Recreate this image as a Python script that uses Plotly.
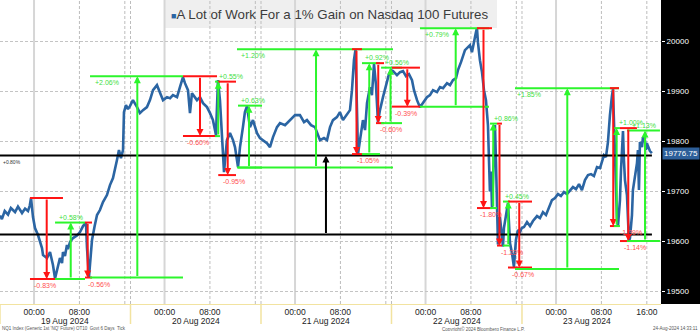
import plotly.graph_objects as go

# ---------------- DATA ----------------
price_time = [
    "2024-08-18 18:00", "2024-08-18 18:20", "2024-08-18 18:50", "2024-08-18 19:25", "2024-08-18 19:55",
    "2024-08-18 20:39", "2024-08-18 21:10", "2024-08-18 21:53", "2024-08-18 22:25", "2024-08-18 22:56",
    "2024-08-18 23:15", "2024-08-18 23:28", "2024-08-18 23:49", "2024-08-19 00:10", "2024-08-19 00:42",
    "2024-08-19 01:24", "2024-08-19 01:35", "2024-08-19 02:17", "2024-08-19 02:49", "2024-08-19 03:20",
    "2024-08-19 03:42", "2024-08-19 04:13", "2024-08-19 04:34", "2024-08-19 04:56", "2024-08-19 05:06",
    "2024-08-19 05:27", "2024-08-19 05:48", "2024-08-19 05:59", "2024-08-19 06:20", "2024-08-19 06:52",
    "2024-08-19 07:34", "2024-08-19 08:06", "2024-08-19 08:38", "2024-08-19 09:09", "2024-08-19 09:20",
    "2024-08-19 09:41", "2024-08-19 09:52", "2024-08-19 10:13", "2024-08-19 10:40", "2024-08-19 11:06",
    "2024-08-19 11:37", "2024-08-19 12:09", "2024-08-19 12:51", "2024-08-19 13:23", "2024-08-19 13:55",
    "2024-08-19 14:16", "2024-08-19 14:37", "2024-08-19 14:58", "2024-08-19 15:19", "2024-08-19 15:41",
    "2024-08-19 15:51", "2024-08-19 16:12", "2024-08-19 16:33", "2024-08-19 16:54",
    # session 2
    "2024-08-19 18:26", "2024-08-19 19:09", "2024-08-19 19:40", "2024-08-19 20:12", "2024-08-19 20:54",
    "2024-08-19 21:26", "2024-08-19 21:58", "2024-08-19 22:40", "2024-08-19 23:12", "2024-08-19 23:44",
    "2024-08-20 00:26", "2024-08-20 00:58", "2024-08-20 01:29", "2024-08-20 02:12", "2024-08-20 02:43",
    "2024-08-20 03:15", "2024-08-20 03:36", "2024-08-20 04:08", "2024-08-20 04:29", "2024-08-20 04:50",
    "2024-08-20 05:43", "2024-08-20 06:15", "2024-08-20 06:47", "2024-08-20 07:29", "2024-08-20 08:01",
    "2024-08-20 08:32", "2024-08-20 09:04", "2024-08-20 09:25", "2024-08-20 09:46", "2024-08-20 10:08",
    "2024-08-20 10:29", "2024-08-20 11:00", "2024-08-20 11:32", "2024-08-20 12:04", "2024-08-20 12:25",
    "2024-08-20 12:57", "2024-08-20 13:18", "2024-08-20 13:49", "2024-08-20 14:10", "2024-08-20 14:32",
    "2024-08-20 15:03", "2024-08-20 15:35", "2024-08-20 16:18", "2024-08-20 16:49",
    # session 3
    "2024-08-20 18:21", "2024-08-20 19:03", "2024-08-20 19:35", "2024-08-20 20:07", "2024-08-20 20:49",
    "2024-08-20 21:21", "2024-08-20 22:14", "2024-08-20 23:07", "2024-08-21 00:00", "2024-08-21 00:52",
    "2024-08-21 01:35", "2024-08-21 02:06", "2024-08-21 02:49", "2024-08-21 03:31", "2024-08-21 04:03",
    "2024-08-21 04:24", "2024-08-21 05:06", "2024-08-21 05:38", "2024-08-21 06:10", "2024-08-21 06:41",
    "2024-08-21 07:23", "2024-08-21 07:55", "2024-08-21 08:27", "2024-08-21 09:09", "2024-08-21 09:41",
    "2024-08-21 10:02", "2024-08-21 10:23", "2024-08-21 10:40", "2024-08-21 10:50", "2024-08-21 10:58",
    "2024-08-21 11:06", "2024-08-21 11:27", "2024-08-21 11:58", "2024-08-21 12:20", "2024-08-21 12:41",
    "2024-08-21 13:12", "2024-08-21 13:33", "2024-08-21 13:55", "2024-08-21 14:16", "2024-08-21 14:37",
    "2024-08-21 14:58", "2024-08-21 15:30", "2024-08-21 16:02", "2024-08-21 16:33", "2024-08-21 16:54",
    # session 4
    "2024-08-21 18:16", "2024-08-21 18:58", "2024-08-21 19:30", "2024-08-21 20:02", "2024-08-21 20:33",
    "2024-08-21 21:05", "2024-08-21 21:37", "2024-08-21 21:58", "2024-08-21 22:30", "2024-08-21 23:01",
    "2024-08-21 23:33", "2024-08-22 00:15", "2024-08-22 00:47", "2024-08-22 01:19", "2024-08-22 02:01",
    "2024-08-22 02:33", "2024-08-22 03:05", "2024-08-22 03:47", "2024-08-22 04:19", "2024-08-22 04:50",
    "2024-08-22 05:22", "2024-08-22 05:43", "2024-08-22 06:15", "2024-08-22 06:36", "2024-08-22 06:57",
    "2024-08-22 07:29", "2024-08-22 07:50", "2024-08-22 08:11", "2024-08-22 08:32", "2024-08-22 08:53",
    "2024-08-22 09:04", "2024-08-22 09:14", "2024-08-22 09:35", "2024-08-22 09:57", "2024-08-22 10:18",
    "2024-08-22 10:39", "2024-08-22 11:00", "2024-08-22 11:10", "2024-08-22 11:21", "2024-08-22 11:32",
    "2024-08-22 11:43", "2024-08-22 11:53", "2024-08-22 12:04", "2024-08-22 12:14", "2024-08-22 12:25",
    "2024-08-22 12:35", "2024-08-22 12:46", "2024-08-22 13:07", "2024-08-22 13:28", "2024-08-22 13:39",
    "2024-08-22 13:49", "2024-08-22 14:21", "2024-08-22 14:32", "2024-08-22 14:53", "2024-08-22 15:14",
    "2024-08-22 15:35", "2024-08-22 15:56", "2024-08-22 16:17", "2024-08-22 16:39", "2024-08-22 16:58",
    # session 5
    "2024-08-22 18:21", "2024-08-22 18:53", "2024-08-22 19:25", "2024-08-22 19:56", "2024-08-22 20:39",
    "2024-08-22 21:10", "2024-08-22 21:42", "2024-08-22 22:14", "2024-08-22 22:45", "2024-08-22 23:17",
    "2024-08-22 23:49", "2024-08-23 00:21", "2024-08-23 00:52", "2024-08-23 01:24", "2024-08-23 01:56",
    "2024-08-23 02:28", "2024-08-23 02:59", "2024-08-23 03:31", "2024-08-23 04:03", "2024-08-23 04:34",
    "2024-08-23 05:06", "2024-08-23 05:38", "2024-08-23 06:10", "2024-08-23 06:41", "2024-08-23 07:13",
    "2024-08-23 07:45", "2024-08-23 08:06", "2024-08-23 08:27", "2024-08-23 08:48", "2024-08-23 09:09",
    "2024-08-23 09:30", "2024-08-23 09:41", "2024-08-23 09:51", "2024-08-23 10:02", "2024-08-23 10:13",
    "2024-08-23 10:23", "2024-08-23 10:34", "2024-08-23 10:44", "2024-08-23 10:55", "2024-08-23 11:06",
    "2024-08-23 11:16", "2024-08-23 11:27", "2024-08-23 11:37", "2024-08-23 11:48", "2024-08-23 11:58",
    "2024-08-23 12:09", "2024-08-23 12:30", "2024-08-23 12:41", "2024-08-23 12:51", "2024-08-23 13:02",
    "2024-08-23 13:23", "2024-08-23 13:33", "2024-08-23 13:55", "2024-08-23 14:16", "2024-08-23 14:26",
    "2024-08-23 14:37", "2024-08-23 14:47", "2024-08-23 15:09", "2024-08-23 15:19", "2024-08-23 15:40",
    "2024-08-23 15:51", "2024-08-23 16:01", "2024-08-23 16:12", "2024-08-23 16:33", "2024-08-23 16:54",
]
price_value = [
    19652, 19645, 19661, 19654, 19667, 19659, 19670, 19657, 19666, 19661,
    19672, 19687, 19649, 19627, 19613, 19587, 19573, 19567, 19579, 19553,
    19526, 19553, 19567, 19557, 19579, 19571, 19593, 19585, 19599, 19607,
    19612, 19619, 19631, 19638, 19587, 19529, 19559, 19603, 19630, 19653,
    19663, 19679, 19693, 19713, 19727, 19743, 19763, 19783, 19767, 19783,
    19859, 19873, 19865, 19871,
    19883, 19869, 19857, 19863, 19869, 19883, 19903, 19913, 19897, 19883,
    19889, 19887, 19893, 19889, 19909, 19929, 19917, 19903, 19857, 19897,
    19883, 19889, 19877, 19869, 19857, 19843, 19813, 19923, 19883, 19817,
    19739, 19803, 19817, 19803, 19789, 19749, 19789, 19829, 19859, 19871,
    19829, 19843, 19817, 19807,
    19803, 19797, 19789, 19809, 19829, 19837, 19833, 19843, 19853, 19853,
    19839, 19843, 19833, 19829, 19813, 19803, 19807, 19803, 19829, 19843,
    19849, 19859, 19843, 19853, 19863, 19903, 19963, 19985, 19903, 19833,
    19775, 19803, 19843, 19823, 19877, 19909, 19893, 19955, 19913, 19839,
    19863, 19889, 19913, 19935, 19943,
    19941, 19933, 19939, 19941, 19931, 19935, 19923, 19903, 19883, 19869,
    19877, 19889, 19893, 19903, 19899, 19909, 19907, 19917, 19913, 19923,
    19927, 19943, 19959, 19973, 19983, 19989, 19993, 19979, 20003, 20019,
    20027, 19999, 19963, 19939, 19903, 19883, 19833, 19760, 19700, 19740,
    19668, 19720, 19790, 19833, 19760, 19660, 19594, 19649, 19607, 19590,
    19627, 19660, 19677, 19597, 19577, 19549, 19603, 19623, 19619, 19627,
    19629, 19639, 19631, 19641, 19651, 19647, 19659, 19653, 19667, 19683,
    19687, 19695, 19691, 19699, 19695, 19703, 19709, 19705, 19715, 19703,
    19723, 19733, 19735, 19731, 19749, 19747, 19759, 19773, 19769, 19799,
    19853, 19883, 19891, 19905, 19827, 19753, 19693, 19647, 19631, 19653,
    19683, 19743, 19793, 19821, 19763, 19723, 19693, 19643, 19601, 19607,
    19653, 19703, 19727, 19757, 19783, 19703, 19799, 19789, 19809, 19803,
    19783, 19797, 19791, 19781, 19776.75,
]

# measured moves: start level, end level, span of level lines, arrow time, label
meas_label = ["-0.83%", "+0.58%", "-0.56%", "+2.06%", "-0.60%", "+0.55%", "-0.95%", "+0.63%",
              "+1.20%", "-1.05%", "+0.92%", "-0.60%", "+0.56%", "-0.39%", "+0.79%", "-1.80%",
              "+0.86%", "-1.23%", "+0.45%", "-0.67%", "+1.85%", "-1.39%", "+1.00%", "-1.14%", "+1.13%"]
meas_from = [19687, 19525, 19638, 19528, 19931, 19811, 19920, 19748,
             19748, 19985, 19775, 19957, 19837, 19948, 19870, 20027,
             19667, 19836, 19592, 19680, 19545, 19907, 19631, 19827, 19601]
meas_to = [19525, 19638, 19528, 19931, 19811, 19920, 19733, 19872,
           19985, 19775, 19957, 19837, 19948, 19870, 20027, 19667,
           19836, 19592, 19680, 19548, 19907, 19631, 19827, 19601, 19822]
meas_start = ["2024-08-18 23:17", "2024-08-19 03:42", "2024-08-19 08:59", "2024-08-19 09:52",
              "2024-08-20 03:15", "2024-08-20 08:54", "2024-08-20 09:28", "2024-08-20 12:57",
              "2024-08-20 12:46", "2024-08-21 10:02", "2024-08-21 11:48", "2024-08-21 14:16",
              "2024-08-21 15:10", "2024-08-21 18:05", "2024-08-21 23:01", "2024-08-22 09:04",
              "2024-08-22 11:22", "2024-08-22 12:36", "2024-08-22 13:39", "2024-08-22 14:32",
              "2024-08-22 15:46", "2024-08-23 09:30", "2024-08-23 10:13", "2024-08-23 11:16",
              "2024-08-23 12:30"]
meas_end = ["2024-08-19 05:06", "2024-08-19 08:59", "2024-08-19 10:13", "2024-08-20 03:15",
            "2024-08-20 09:15", "2024-08-20 09:46", "2024-08-20 12:36", "2024-08-20 18:11",
            "2024-08-21 18:16", "2024-08-21 11:48", "2024-08-21 14:58", "2024-08-21 15:41",
            "2024-08-21 19:51", "2024-08-21 23:01", "2024-08-22 11:11", "2024-08-22 11:43",
            "2024-08-22 12:36", "2024-08-22 13:28", "2024-08-22 14:53", "2024-08-22 19:46",
            "2024-08-23 11:06", "2024-08-23 11:06", "2024-08-23 11:16", "2024-08-23 14:16",
            "2024-08-23 19:19"]
meas_arrow = ["2024-08-19 02:14", "2024-08-19 06:28", "2024-08-19 09:27", "2024-08-19 19:12",
              "2024-08-20 06:15", "2024-08-20 09:28", "2024-08-20 11:08", "2024-08-20 14:53",
              "2024-08-21 03:42", "2024-08-21 10:50", "2024-08-21 13:05", "2024-08-21 14:40",
              "2024-08-21 16:50", "2024-08-21 20:47", "2024-08-22 05:19", "2024-08-22 10:13",
              "2024-08-22 11:56", "2024-08-22 13:02", "2024-08-22 14:35", "2024-08-22 16:31",
              "2024-08-23 01:59", "2024-08-23 10:05", "2024-08-23 10:41", "2024-08-23 12:44",
              "2024-08-23 15:41"]

level_values = [19614, 19772]
level_label = "+0.80%"
level_start = "2024-08-18 18:00"
level_end = "2024-08-23 16:54"
level_arrow = "2024-08-21 05:27"

session_days = ["2024-08-19", "2024-08-20", "2024-08-21", "2024-08-22", "2024-08-23"]
session_prev = ["2024-08-18", "2024-08-19", "2024-08-20", "2024-08-21", "2024-08-22"]
date_labels = ["19 Aug 2024", "20 Aug 2024", "21 Aug 2024", "22 Aug 2024", "23 Aug 2024"]
ytick_vals = [19500, 19600, 19700, 19800, 19900, 20000]
last_price = 19776.75
title_text = "A Lot of Work For a 1% Gain on Nasdaq 100 Futures"
footer_left = "NQ1 Index (Generic 1st 'NQ' Future) OT10  Govt 6 Days  Tick"
footer_mid = "Copyright\u00a9 2024 Bloomberg Finance L.P."
footer_right = "24-Aug-2024 14:33:11"

# ---------------- STYLE ----------------
W, H = 700, 331
ML, MR, MT, MB = 0, 39, 0, 27
PW, PH = W - ML - MR, H - MT - MB
BLUE = "#2b65a3"
GREEN_LINE, GREEN_TXT = "#2cf52c", "#3fe03f"
RED_LINE, RED_TXT = "#ff1414", "#ff5050"
label_side = ["below", "above", "below", "below", "below", "above", "below", "above",
              "below", "below", "above", "below", "above", "below", "below", "below",
              "above", "below", "above", "below", "below", "below", "above", "below", "above"]
label_dx = [2, 2, 1, 3, 2, 2, 3, 1, 2, 3, 1, 2, 2, 1, 3, 1, 2, 2, 0, 2, 0, 8, 3, 2, 3]
LBL_FONT = dict(family="Liberation Sans", size=7)

fig = go.Figure()
fig.add_trace(go.Scatter(x=price_time, y=price_value, mode="lines",
                         line=dict(color=BLUE, width=2.6), hoverinfo="skip", showlegend=False))

shapes = []
annotations = []

# right black panel and title box
shapes.append(dict(type="rect", xref="paper", yref="paper", x0=1, x1=1 + MR / PW, y0=0, y1=1,
                   fillcolor="black", line=dict(width=0), layer="below"))
shapes.append(dict(type="rect", xref="paper", yref="paper", x0=165 / PW, x1=497 / PW,
                   y0=1 - 28 / PH, y1=1, fillcolor="#efefef", line=dict(width=0), layer="below"))

# vertical grid
for d, p in zip(session_days, session_prev):
    shapes.append(dict(type="line", xref="x", yref="paper", x0=d + " 00:00", x1=d + " 00:00",
                       y0=0, y1=1, line=dict(color="#d6d6d6", width=2), layer="below"))
    for hh in ["08:00", "16:00"]:
        shapes.append(dict(type="line", xref="x", yref="paper", x0=d + " " + hh, x1=d + " " + hh,
                           y0=0, y1=1, line=dict(color="#bdbdbd", width=1, dash="3px,2px"), layer="below"))
    # yellow session separator under the axis
    shapes.append(dict(type="line", xref="x", yref="paper", x0=p + " 18:00", x1=p + " 18:00",
                       y0=0, y1=-20 / PH, line=dict(color="#f2e3a0", width=1.5)))
    if d != session_days[0]:
        shapes.append(dict(type="line", xref="x", yref="paper", x0=p + " 18:00", x1=p + " 18:00",
                           y0=0, y1=1, line=dict(color="#bdbdbd", width=1, dash="3px,2px"), layer="below"))

# black reference levels
for lv in level_values:
    shapes.append(dict(type="line", xref="x", yref="y", x0=level_start, x1=level_end, y0=lv, y1=lv,
                       line=dict(color="black", width=2)))
annotations.append(dict(x=level_arrow, y=level_values[1], ax=level_arrow, ay=level_values[0],
                        xref="x", yref="y", axref="x", ayref="y", text="", showarrow=True,
                        arrowhead=2, arrowsize=0.7, arrowwidth=2, arrowcolor="black"))
annotations.append(dict(x=level_start, y=level_values[1], xref="x", yref="y", text=level_label,
                        showarrow=False, xanchor="left", yanchor="top", xshift=1, yshift=-1,
                        font=dict(family="Liberation Sans", size=5, color="#333333")))

# measured moves
for i in range(len(meas_label)):
    up = meas_to[i] > meas_from[i]
    lc = GREEN_LINE if up else RED_LINE
    tc = GREEN_TXT if up else RED_TXT
    for lv in (meas_from[i], meas_to[i]):
        shapes.append(dict(type="line", xref="x", yref="y", x0=meas_start[i], x1=meas_end[i],
                           y0=lv, y1=lv, line=dict(color=lc, width=2)))
    annotations.append(dict(x=meas_arrow[i], y=meas_to[i], ax=meas_arrow[i], ay=meas_from[i],
                            xref="x", yref="y", axref="x", ayref="y", text="", showarrow=True,
                            arrowhead=2, arrowsize=0.7, arrowwidth=2, arrowcolor=lc))
    above = label_side[i] == "above"
    annotations.append(dict(x=meas_start[i], y=meas_to[i], xref="x", yref="y", text=meas_label[i],
                            showarrow=False, xanchor="left", yanchor="bottom" if above else "top",
                            xshift=label_dx[i], yshift=0 if above else -1,
                            font=dict(LBL_FONT, color=tc)))

# title
annotations.append(dict(xref="paper", yref="paper", x=169 / PW, y=1 - 15 / PH, xanchor="left",
                        yanchor="middle", showarrow=False,
                        text='<span style="color:%s;font-size:9px">\u25a0</span>%s' % (BLUE, title_text),
                        font=dict(family="Liberation Sans", size=13.3, color="#3c3c3c")))

# date labels centred on each session
for d, lab in zip(session_days, date_labels):
    annotations.append(dict(xref="x", yref="paper", x=d + " 05:30",
                            y=-17 / PH, xanchor="center", yanchor="middle", showarrow=False, text=lab,
                            font=dict(family="Liberation Sans", size=8.5, color="#222222")))

# last price badge
annotations.append(dict(xref="paper", yref="y", x=1, y=last_price, xanchor="left", xshift=1,
                        showarrow=False, text="%.2f" % last_price, bgcolor="#2d5f99", borderpad=1,
                        font=dict(family="Liberation Sans", size=8, color="white")))

# footers
for txt, xx, anc in [(footer_left, 0, "left"), (footer_mid, 483 / PW, "center"), (footer_right, W / PW, "right")]:
    annotations.append(dict(xref="paper", yref="paper", x=xx, y=-24.5 / PH, xanchor=anc, yanchor="middle",
                            showarrow=False, text=txt,
                            font=dict(family="Liberation Sans", size=4.5, color="#555555")))

tickvals = []
ticktext = []
for d in session_days:
    tickvals += [d + " 00:00", d + " 08:00"]
    ticktext += ["00:00", "08:00"]
tickvals.append(session_days[-1] + " 16:00")
ticktext.append("16:00")

fig.update_layout(
    width=W, height=H, margin=dict(l=ML, r=MR, t=MT, b=MB),
    paper_bgcolor="white", plot_bgcolor="white",
    shapes=shapes, annotations=annotations, showlegend=False,
    xaxis=dict(type="date", range=["2024-08-18 18:00", "2024-08-23 19:30"],
               rangebreaks=[dict(bounds=[17, 18], pattern="hour")],
               tickvals=tickvals, ticktext=ticktext, showgrid=False, zeroline=False,
               showline=True, linecolor="#f2e3a0", linewidth=1, ticks="",
               tickfont=dict(family="Liberation Sans", size=8.5, color="#222222")),
    yaxis=dict(range=[19475, 20083.4], side="right", tickvals=ytick_vals,
               ticktext=[str(v) for v in ytick_vals],
               showgrid=True, gridcolor="#c4c4c4", griddash="3px,2px", gridwidth=1,
               zeroline=False, ticks="outside", ticklen=3, tickcolor="white",
               tickfont=dict(family="Liberation Sans", size=8, color="white")),
)

fig.write_html("out.html")
